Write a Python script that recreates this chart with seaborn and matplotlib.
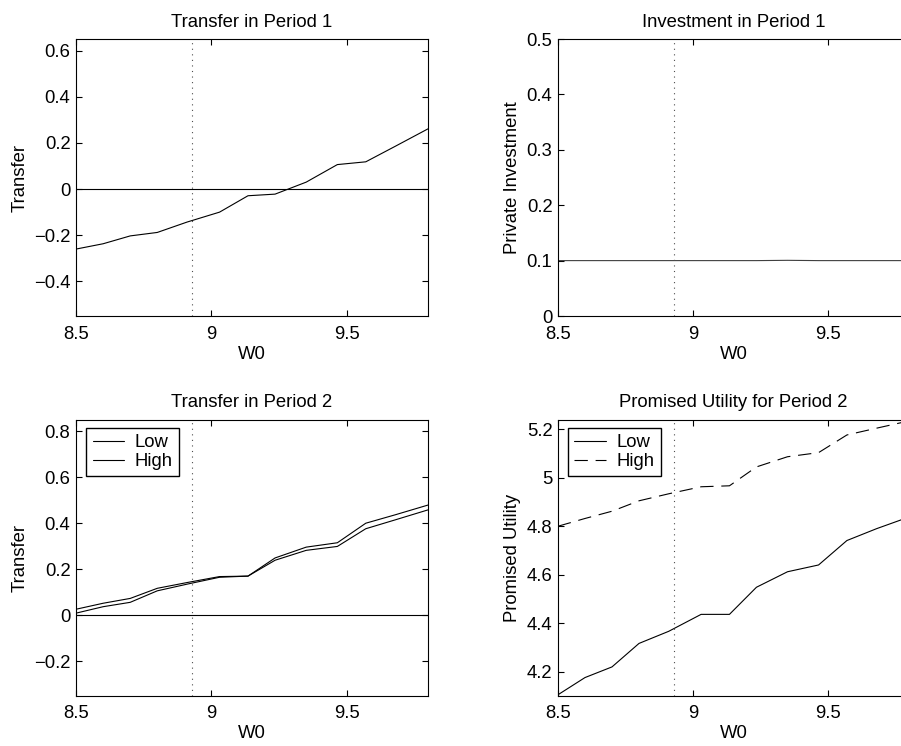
import numpy as np
import pandas as pd
import seaborn as sns
from matplotlib import pyplot as plt
from matplotlib.ticker import FuncFormatter

# W0 grid
w0 = [8.50, 8.60, 8.70, 8.80, 8.91, 9.03, 9.135, 9.235, 9.35, 9.465, 9.57, 9.68, 9.80]
w0_marker = 8.93

transfer_p1 = [-0.260, -0.237, -0.203, -0.188, -0.143, -0.100, -0.029, -0.022, 0.030, 0.106, 0.118, 0.186, 0.261]
investment_p1 = [0.100, 0.100, 0.100, 0.100, 0.100, 0.100, 0.100, 0.100, 0.1005, 0.100, 0.100, 0.100, 0.100]
transfer_p2_low = [0.026, 0.052, 0.073, 0.117, 0.142, 0.168, 0.170, 0.249, 0.296, 0.315, 0.400, 0.437, 0.479]
transfer_p2_high = [0.009, 0.037, 0.056, 0.106, 0.135, 0.165, 0.170, 0.239, 0.282, 0.299, 0.376, 0.415, 0.458]
utility_low = [4.104, 4.175, 4.219, 4.316, 4.366, 4.436, 4.436, 4.548, 4.612, 4.640, 4.741, 4.790, 4.838]
utility_high = [4.800, 4.832, 4.862, 4.905, 4.934, 4.963, 4.967, 5.045, 5.087, 5.104, 5.177, 5.205, 5.235]

titles = ["Transfer in Period 1", "Investment in Period 1", "Transfer in Period 2", "Promised Utility for Period 2"]
ylabels = ["Transfer", "Private Investment", "Transfer", "Promised Utility"]
legend_labels = ["Low", "High"]

sns.set_style("ticks")
plt.rcParams['font.family'] = ['Liberation Sans', 'DejaVu Sans']
plt.rcParams['font.size'] = 13.3
plt.rcParams['axes.linewidth'] = 0.8
plt.rcParams['xtick.direction'] = 'in'
plt.rcParams['ytick.direction'] = 'in'
plt.rcParams['xtick.top'] = True
plt.rcParams['ytick.right'] = True
plt.rcParams['xtick.major.size'] = 4
plt.rcParams['ytick.major.size'] = 4
plt.rcParams['xtick.major.pad'] = 7
plt.rcParams['ytick.major.pad'] = 4
plt.rcParams['text.color'] = 'black'
plt.rcParams['axes.labelcolor'] = 'black'
plt.rcParams['xtick.color'] = 'black'
plt.rcParams['ytick.color'] = 'black'

fig = plt.figure(figsize=(9.01, 7.46), dpi=100)
ax1 = fig.add_axes([0.0844, 0.5764, 0.3907, 0.3713])
ax2 = fig.add_axes([0.6193, 0.5764, 0.3896, 0.3713])
ax3 = fig.add_axes([0.0844, 0.0674, 0.3907, 0.3700])
ax4 = fig.add_axes([0.6193, 0.0674, 0.3896, 0.3700])
axes = [ax1, ax2, ax3, ax4]

lw = 0.8
fmt = FuncFormatter(lambda v, p: ("%g" % v).replace("-", "\u2212"))

# 第一期转移
sns.lineplot(x=w0, y=transfer_p1, ax=ax1, color='k', lw=lw)
ax1.axhline(0, color='k', lw=lw)
ax1.set_ylim(-0.55, 0.65)
ax1.set_yticks([-0.4, -0.2, 0, 0.2, 0.4, 0.6])

# 第一期投资
sns.lineplot(x=w0, y=investment_p1, ax=ax2, color='0.25', lw=lw)
ax2.set_ylim(0, 0.5)
ax2.set_yticks([0, 0.1, 0.2, 0.3, 0.4, 0.5])

# 第二期转移
sns.lineplot(x=w0, y=transfer_p2_low, ax=ax3, color='k', lw=lw, label=legend_labels[0])
sns.lineplot(x=w0, y=transfer_p2_high, ax=ax3, color='k', lw=lw, label=legend_labels[1])
ax3.axhline(0, color='k', lw=lw)
ax3.set_ylim(-0.35, 0.85)
ax3.set_yticks([-0.2, 0, 0.2, 0.4, 0.6, 0.8])

# 承诺效用
sns.lineplot(x=w0, y=utility_low, ax=ax4, color='k', lw=lw, label=legend_labels[0])
sns.lineplot(x=w0, y=utility_high, ax=ax4, color='k', lw=lw, label=legend_labels[1],
             linestyle=(0, (12, 7)))
ax4.set_ylim(4.10, 5.24)
ax4.set_yticks([4.2, 4.4, 4.6, 4.8, 5.0, 5.2])

for i, ax in enumerate(axes):
    ax.axvline(w0_marker, color='0.3', lw=lw, linestyle=(0, (1, 4)))
    ax.set_xlim(8.5, 9.8)
    ax.set_xticks([8.5, 9, 9.5])
    ax.xaxis.set_major_formatter(fmt)
    ax.yaxis.set_major_formatter(fmt)
    ax.set_title(titles[i], fontsize=13.3, pad=9)
    ax.set_xlabel("W0", labelpad=2)
    ax.set_ylabel(ylabels[i], labelpad=4)
    for s in ax.spines.values():
        s.set_color('k')
        s.set_linewidth(lw)

for ax in [ax3, ax4]:
    w = 352 if ax is ax3 else 351
    leg = ax.legend(loc='upper left', bbox_to_anchor=(10 / w, 1 - 8 / 276), borderaxespad=0,
                    fancybox=False, framealpha=1, edgecolor='k', handlelength=1.7,
                    handletextpad=0.6, labelspacing=0.1, borderpad=0.35, fontsize=13.3)
    leg.get_frame().set_linewidth(1.0)

fig.savefig("out.png", dpi=100)
